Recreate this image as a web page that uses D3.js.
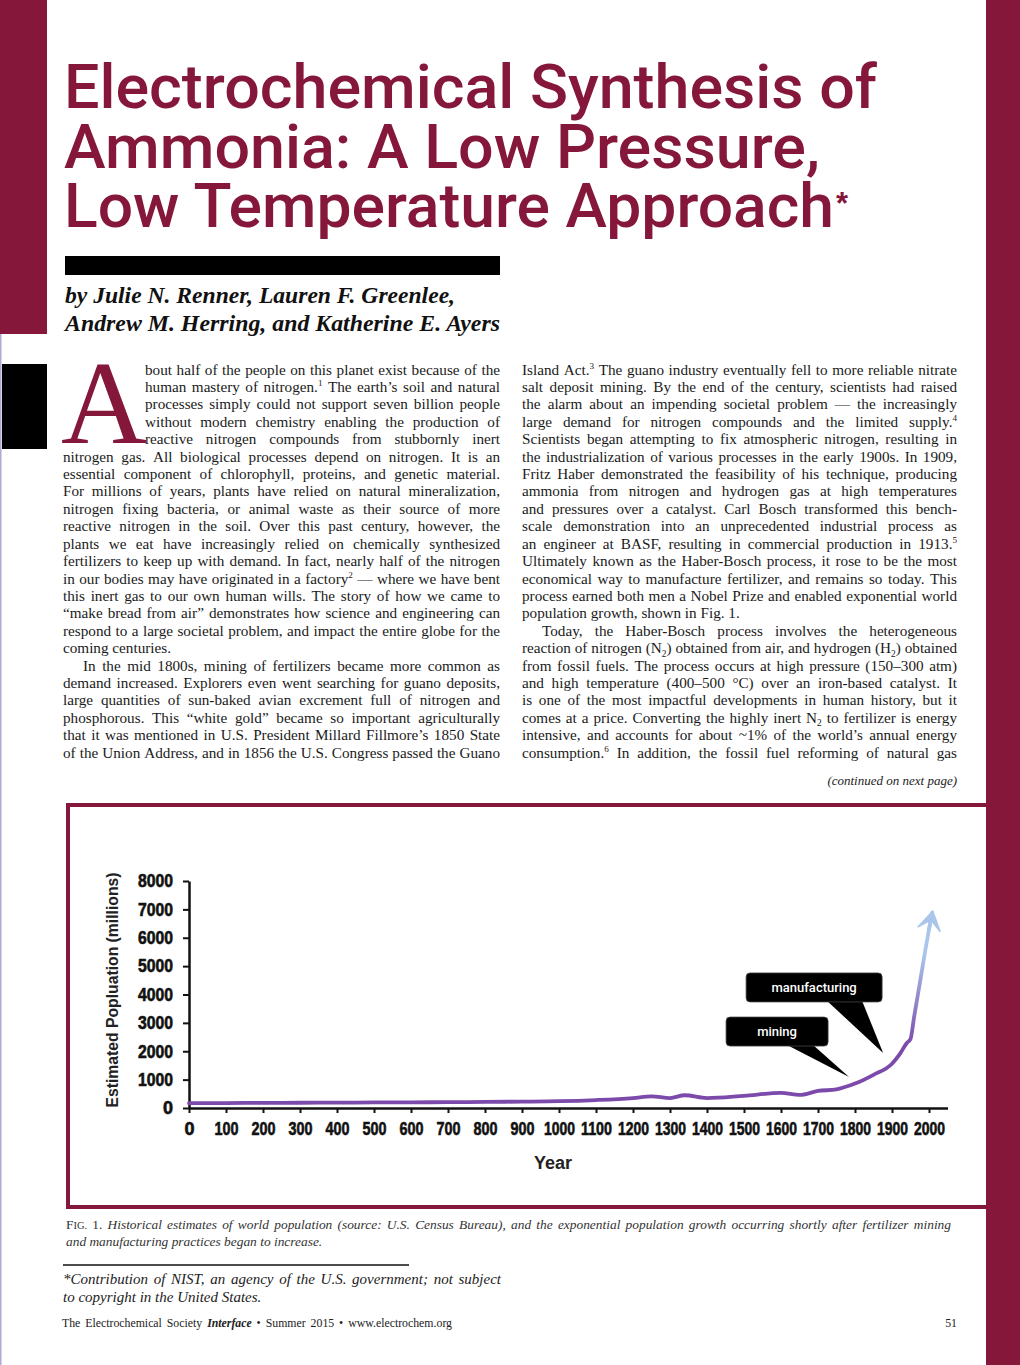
<!DOCTYPE html>
<html><head><meta charset="utf-8">
<script src="https://cdn.jsdelivr.net/npm/d3@7"></script>
<style>html,body{margin:0;padding:0;background:#fff;} svg{display:block;}</style>
</head><body>
<svg id="page" width="1020" height="1365"></svg>
<script>
// ---------------- DATA ----------------
const years = [0, 100, 200, 300, 400, 500, 600, 700, 800, 900, 1000, 1100, 1200, 1250, 1300, 1340, 1400, 1500, 1600, 1650, 1700, 1750, 1800, 1850, 1900, 1920, 1940, 1950, 1960, 1970, 1980, 1990, 2000, 2010];
const population = [170, 175, 180, 185, 190, 195, 200, 205, 215, 225, 240, 280, 350, 410, 350, 450, 350, 430, 530, 460, 600, 660, 860, 1170, 1560, 1880, 2290, 2430, 3230, 4000, 4780, 5560, 6300, 6940];
const xTickValues = d3.range(0, 2001, 100);
const yTickValues = d3.range(0, 8001, 1000);
const annotationLabels = ["mining", "manufacturing"];
const annotationYears = [1784, 1876];
const annotationValues = [1090, 1940];
const yAxisTitle = "Estimated Popluation (millions)";
const xAxisTitle = "Year";

const titleLines = ["Electrochemical Synthesis of", "Ammonia: A Low Pressure,", "Low Temperature Approach"];
const bylineLines = ["by Julie N. Renner, Lauren F. Greenlee,", "Andrew M. Herring, and Katherine E. Ayers"];
const dropCap = "A";
const leftColumn = [
 "bout half of the people on this planet exist because of the",
 "human mastery of nitrogen.^1 The earth’s soil and natural",
 "processes simply could not support seven billion people",
 "without modern chemistry enabling the production of",
 "reactive nitrogen compounds from stubbornly inert",
 "nitrogen gas. All biological processes depend on nitrogen. It is an",
 "essential component of chlorophyll, proteins, and genetic material.",
 "For millions of years, plants have relied on natural mineralization,",
 "nitrogen fixing bacteria, or animal waste as their source of more",
 "reactive nitrogen in the soil. Over this past century, however, the",
 "plants we eat have increasingly relied on chemically synthesized",
 "fertilizers to keep up with demand. In fact, nearly half of the nitrogen",
 "in our bodies may have originated in a factory^2 — where we have bent",
 "this inert gas to our own human wills. The story of how we came to",
 "“make bread from air” demonstrates how science and engineering can",
 "respond to a large societal problem, and impact the entire globe for the",
 "coming centuries.",
 "In the mid 1800s, mining of fertilizers became more common as",
 "demand increased. Explorers even went searching for guano deposits,",
 "large quantities of sun-baked avian excrement full of nitrogen and",
 "phosphorous. This “white gold” became so important agriculturally",
 "that it was mentioned in U.S. President Millard Fillmore’s 1850 State",
 "of the Union Address, and in 1856 the U.S. Congress passed the Guano"
];
const leftRagged = [16];
const leftIndented = [17];
const rightColumn = [
 "Island Act.^3 The guano industry eventually fell to more reliable nitrate",
 "salt deposit mining. By the end of the century, scientists had raised",
 "the alarm about an impending societal problem — the increasingly",
 "large demand for nitrogen compounds and the limited supply.^4",
 "Scientists began attempting to fix atmospheric nitrogen, resulting in",
 "the industrialization of various processes in the early 1900s. In 1909,",
 "Fritz Haber demonstrated the feasibility of his technique, producing",
 "ammonia from nitrogen and hydrogen gas at high temperatures",
 "and pressures over a catalyst. Carl Bosch transformed this bench-",
 "scale demonstration into an unprecedented industrial process as",
 "an engineer at BASF, resulting in commercial production in 1913.^5",
 "Ultimately known as the Haber-Bosch process, it rose to be the most",
 "economical way to manufacture fertilizer, and remains so today. This",
 "process earned both men a Nobel Prize and enabled exponential world",
 "population growth, shown in Fig. 1.",
 "Today, the Haber-Bosch process involves the heterogeneous",
 "reaction of nitrogen (N_2) obtained from air, and hydrogen (H_2) obtained",
 "from fossil fuels. The process occurs at high pressure (150–300 atm)",
 "and high temperature (400–500 °C) over an iron-based catalyst. It",
 "is one of the most impactful developments in human history, but it",
 "comes at a price. Converting the highly inert N_2 to fertilizer is energy",
 "intensive, and accounts for about ~1% of the world’s annual energy",
 "consumption.^6 In addition, the fossil fuel reforming of natural gas"
];
const rightRagged = [14];
const rightIndented = [15];
const continuedNote = "(continued on next page)";
const captionLines = [
 "!F{IG.} !1. Historical estimates of world population (source: U.S. Census Bureau), and the exponential population growth occurring shortly after fertilizer mining",
 "and manufacturing practices began to increase."
];
const footnoteLines = ["*Contribution of NIST, an agency of the U.S. government; not subject", "to copyright in the United States."];
const footerLeft = "The Electrochemical Society %Interface • Summer 2015 • www.electrochem.org";
const footerRight = "51";

// ---------------- PAGE ----------------
const CRIMSON = "#85173a";
const SERIF = "'Liberation Serif','Times New Roman',serif";
const SANS = "'Liberation Sans',Arial,sans-serif";
const TITLE = "Roboto,'Liberation Sans',Arial,sans-serif";
const NARROW = "'Liberation Sans Narrow','Arial Narrow','Liberation Sans',sans-serif";
const svg = d3.select("#page");
svg.append("rect").attr("width", 1020).attr("height", 1365).attr("fill", "#fff");

// decorative bands
svg.append("rect").attr("x", 0).attr("y", 0).attr("width", 47).attr("height", 334).attr("fill", CRIMSON);
svg.append("rect").attr("x", 986).attr("y", 0).attr("width", 34).attr("height", 1365).attr("fill", CRIMSON);
svg.append("rect").attr("x", 0).attr("y", 334).attr("width", 1.5).attr("height", 1031).attr("fill", "#b6a6d6");
svg.append("rect").attr("x", 2).attr("y", 364).attr("width", 45).attr("height", 85).attr("fill", "#000");
svg.append("rect").attr("x", 65).attr("y", 256).attr("width", 435).attr("height", 19).attr("fill", "#000");

// title
const titleBase = [108, 168, 227];
const titleLen = [813, 756, 770];
titleLines.forEach((t, i) => {
  svg.append("text").attr("x", 64).attr("y", titleBase[i]).attr("font-family", TITLE).attr("font-weight", 500)
    .attr("font-size", 61).attr("fill", CRIMSON).attr("textLength", titleLen[i]).attr("lengthAdjust", "spacingAndGlyphs").text(t);
});
svg.append("text").attr("x", 836).attr("y", 214).attr("font-family", SANS).attr("font-weight", "bold")
  .attr("font-size", 31).attr("fill", CRIMSON).text("*");

// byline
const byBase = [303, 331];
const byLen = [390, 435];
bylineLines.forEach((t, i) => {
  svg.append("text").attr("x", 65).attr("y", byBase[i]).attr("font-family", SERIF).attr("font-weight", "bold")
    .attr("font-style", "italic").attr("font-size", 23).attr("fill", "#111")
    .attr("textLength", byLen[i]).attr("lengthAdjust", "spacingAndGlyphs").text(t);
});

// rich word renderer
function richWord(g, word, size, opt) {
  let upright = false, boldItal = false;
  if (word.startsWith("!")) { upright = true; word = word.slice(1); }
  if (word.startsWith("%")) { boldItal = true; word = word.slice(1); }
  const t = g.append("text").attr("font-family", SERIF).attr("font-size", size).attr("fill", opt.fill || "#1a1a1a");
  if (opt.italic && !upright) t.attr("font-style", "italic");
  if (boldItal) t.attr("font-style", "italic").attr("font-weight", "bold");
  let cur = 0;
  const seg = (txt, target, fs) => {
    if (!txt) return;
    const sp = t.append("tspan").attr("dy", target - cur).text(txt);
    if (fs) sp.attr("font-size", fs);
    cur = target;
  };
  const re = /\^([0-9]+)|_([0-9]+)|\{([^}]*)\}/g;
  let last = 0, m;
  while ((m = re.exec(word))) {
    seg(word.slice(last, m.index), 0);
    if (m[1]) seg(m[1], -size * 0.36, size * 0.6);
    else if (m[2]) seg(m[2], size * 0.22, size * 0.62);
    else seg(m[3], 0, size * 0.78);
    last = re.lastIndex;
  }
  seg(word.slice(last), 0);
  return t;
}
function drawLine(g, line, x, y, width, justify, size, opt) {
  const words = line.split(" ");
  const nodes = words.map(w => richWord(g, w, size, opt));
  const widths = nodes.map(n => n.node().getComputedTextLength());
  const total = d3.sum(widths);
  let gap = size * 0.25;
  let scale = 1;
  if (justify && words.length > 1) {
    gap = (width - total) / (words.length - 1);
    const minGap = size * 0.16;
    if (gap < minGap) { gap = minGap; scale = (width - minGap * (words.length - 1)) / total; }
  }
  let cx = x;
  if (opt.align === "right") cx = x + width - (total + gap * (words.length - 1));
  nodes.forEach((n, i) => {
    n.attr("x", cx).attr("y", y);
    if (scale < 1) n.attr("textLength", widths[i] * scale).attr("lengthAdjust", "spacingAndGlyphs");
    cx += widths[i] * scale + gap;
  });
}

// body columns
const bodySize = 15.2, lineGap = 17.42, firstBase = 374.5;
const body = svg.append("g");
function drawColumn(lines, x0, x1, ragged, indented, dropLines) {
  lines.forEach((ln, i) => {
    let x = x0;
    if (i < dropLines) x = 145;
    if (indented.includes(i)) x = x0 + 20;
    drawLine(body, ln, x, firstBase + i * lineGap, x1 - x, !ragged.includes(i), bodySize, {});
  });
}
drawColumn(leftColumn, 63, 500, leftRagged, leftIndented, 5);
drawColumn(rightColumn, 522, 957, rightRagged, rightIndented, 0);
svg.append("text").attr("x", 61).attr("y", 443).attr("font-family", SERIF).attr("font-size", 119)
  .attr("fill", CRIMSON).text(dropCap);
drawLine(body, continuedNote, 700, 785, 257, false, 13, { italic: true, align: "right", fill: "#222" });

// ---------------- CHART ----------------
svg.append("rect").attr("x", 68).attr("y", 805).attr("width", 930).attr("height", 402)
  .attr("fill", "none").attr("stroke", CRIMSON).attr("stroke-width", 4);

const x = d3.scaleLinear().domain([0, 2050]).range([189, 947.5]);
const y = d3.scaleLinear().domain([0, 8000]).range([1108, 881]);
const chart = svg.append("g");

const defs = svg.append("defs");
const grad = defs.append("linearGradient").attr("id", "lineGrad").attr("gradientUnits", "userSpaceOnUse")
  .attr("x1", 0).attr("x2", 0).attr("y1", y(2200)).attr("y2", y(5400));
grad.append("stop").attr("offset", "0%").attr("stop-color", "#7b4aab");
grad.append("stop").attr("offset", "100%").attr("stop-color", "#aac6ea");

const xAxis = chart.append("g").attr("transform", `translate(0,${y(0)})`)
  .call(d3.axisBottom(x).tickValues(xTickValues).tickSize(5).tickSizeOuter(0).tickPadding(9).tickFormat(d3.format("d")));
const yAxis = chart.append("g").attr("transform", `translate(${x(0)},0)`)
  .call(d3.axisLeft(y).tickValues(yTickValues).tickSize(6).tickSizeOuter(0).tickPadding(10).tickFormat(d3.format("d")));
[xAxis, yAxis].forEach(a => {
  a.select(".domain").attr("stroke", "#111").attr("stroke-width", 2.5);
  a.selectAll(".tick line").attr("stroke", "#111").attr("stroke-width", 2);
  a.selectAll(".tick text").attr("font-family", NARROW).attr("font-weight", "bold").attr("font-size", 18)
    .attr("fill", "#111").attr("stroke", "#111").attr("stroke-width", 0.6);
});
xAxis.selectAll(".tick text").attr("textLength", d => d === 0 ? null : (d < 1000 ? 24 : 31)).attr("lengthAdjust", "spacingAndGlyphs");
yAxis.selectAll(".tick text").attr("textLength", d => d === 0 ? null : 35).attr("lengthAdjust", "spacingAndGlyphs");

chart.append("text").attr("transform", `translate(118,990) rotate(-90)`).attr("text-anchor", "middle")
  .attr("font-family", SANS).attr("font-weight", "bold").attr("font-size", 17).attr("fill", "#222")
  .attr("textLength", 235).attr("lengthAdjust", "spacingAndGlyphs").text(yAxisTitle);
chart.append("text").attr("x", 553).attr("y", 1169).attr("text-anchor", "middle")
  .attr("font-family", SANS).attr("font-weight", "bold").attr("font-size", 18).attr("fill", "#222").text(xAxisTitle);

const series = years.map((yr, i) => [yr, population[i]]);
const lineGen = d3.line().x(d => x(d[0])).y(d => y(d[1])).curve(d3.curveMonotoneX);
chart.append("path").datum(series.slice(0, -1).concat([[series[series.length - 1][0] - 1.5, series[series.length - 1][1] - 60]]))
  .attr("d", lineGen).attr("fill", "none")
  .attr("stroke", "url(#lineGrad)").attr("stroke-width", 3.8).attr("stroke-linejoin", "round").attr("stroke-linecap", "round");

// arrow head
const tip = series[series.length - 1], prev = series[series.length - 2];
const tx = x(tip[0]), ty = y(tip[1]);
const ang = Math.atan2(y(prev[1]) - ty, x(prev[0]) - tx);
const wing = 22, spread = 0.55;
const p1 = [tx + wing * Math.cos(ang - spread), ty + wing * Math.sin(ang - spread)];
const p2 = [tx + wing * Math.cos(ang + spread), ty + wing * Math.sin(ang + spread)];
const pm = [tx + 9 * Math.cos(ang), ty + 9 * Math.sin(ang)];
chart.append("path").attr("d", `M${tx},${ty}L${p1[0]},${p1[1]}L${pm[0]},${pm[1]}L${p2[0]},${p2[1]}Z`)
  .attr("fill", "#aac6ea").attr("stroke", "#aac6ea").attr("stroke-width", 1.5).attr("stroke-linejoin", "miter");
chart.append("line").attr("x1", pm[0]).attr("y1", pm[1]).attr("x2", tx + 20 * Math.cos(ang)).attr("y2", ty + 20 * Math.sin(ang))
  .attr("stroke", "#aac6ea").attr("stroke-width", 3.6);

// callouts
const calloutLayout = [
  { dx: -123, dy: -60, w: 102, h: 29, t0: -62, t1: -36 },
  { dx: -137, dy: -80, w: 136, h: 29, t0: -56, t1: -21 }
];
annotationLabels.forEach((lab, i) => {
  const L = calloutLayout[i];
  const px = x(annotationYears[i]), py = y(annotationValues[i]);
  const g = chart.append("g");
  g.append("path").attr("d", `M${px + L.t0},${py + L.dy + L.h - 1}L${px + L.t1},${py + L.dy + L.h - 1}L${px},${py}Z`).attr("fill", "#000");
  g.append("rect").attr("x", px + L.dx).attr("y", py + L.dy).attr("width", L.w).attr("height", L.h)
    .attr("rx", 4).attr("fill", "#000").attr("stroke", "#444").attr("stroke-width", 0.8);
  g.append("text").attr("x", px + L.dx + L.w / 2).attr("y", py + L.dy + L.h / 2 + 4.5).attr("text-anchor", "middle")
    .attr("font-family", "Roboto,'Liberation Sans',sans-serif").attr("font-weight", 500).attr("font-size", 13)
    .attr("fill", "#fff").text(lab);
});

// ---------------- CAPTION / FOOTER ----------------
const foot = svg.append("g");
drawLine(foot, captionLines[0], 66, 1229, 885, true, 13.4, { italic: true, fill: "#333" });
drawLine(foot, captionLines[1], 66, 1246, 300, false, 13.4, { italic: true, fill: "#333" });
svg.append("line").attr("x1", 63).attr("x2", 409).attr("y1", 1265).attr("y2", 1265).attr("stroke", "#111").attr("stroke-width", 1.5);
drawLine(foot, footnoteLines[0], 63, 1284, 438, true, 15, { italic: true, fill: "#222" });
drawLine(foot, footnoteLines[1], 63, 1302, 300, false, 15, { italic: true, fill: "#222" });
drawLine(foot, footerLeft, 62, 1327, 390, true, 11.8, { fill: "#222" });
drawLine(foot, footerRight, 900, 1327, 57, false, 11.8, { align: "right", fill: "#222" });
</script>
</body></html>
